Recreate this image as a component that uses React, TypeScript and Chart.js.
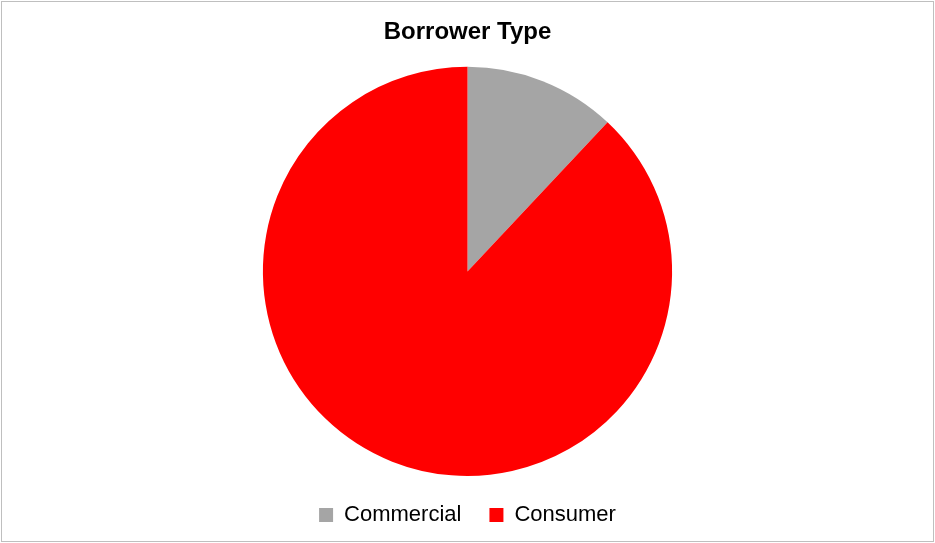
import React, { useEffect, useRef } from "react";
import { Chart, registerables } from "chart.js";

Chart.register(...registerables);

const categories = ["Commercial", "Consumer"];
const values = [12, 88];
const colors = ["#A5A5A5", "#FF0000"];
const titleText = "Borrower Type";

export default function App() {
  const canvasRef = useRef<HTMLCanvasElement | null>(null);

  useEffect(() => {
    document.body.style.margin = "0";
    const canvas = canvasRef.current;
    if (!canvas) return;
    const chart = new Chart(canvas, {
      type: "pie",
      data: {
        labels: categories,
        datasets: [
          {
            data: values,
            backgroundColor: colors,
            borderWidth: 0,
          },
        ],
      },
      options: {
        animation: false,
        responsive: true,
        maintainAspectRatio: false,
        layout: { padding: { top: 0, bottom: 7, left: 0, right: 0 } },
        plugins: {
          tooltip: { enabled: false },
          title: {
            display: true,
            text: titleText,
            color: "#000000",
            font: { family: "'Liberation Sans', Arial, sans-serif", size: 24, weight: "bold" },
            padding: { top: 18, bottom: 20 },
          },
          legend: {
            display: true,
            position: "bottom",
            labels: {
              color: "#000000",
              font: { family: "'Liberation Sans', Arial, sans-serif", size: 22 },
              boxWidth: 14,
              boxHeight: 14,
              padding: 28,
            },
          },
        },
      },
    });
    return () => chart.destroy();
  }, []);

  return (
    <div style={{ position: "relative", width: 935, height: 543, background: "#ffffff" }}>
      <canvas ref={canvasRef} style={{ position: "absolute", left: 0, top: 0 }} />
      <div
        style={{
          position: "absolute",
          left: 1,
          top: 1,
          width: 933,
          height: 541,
          boxSizing: "border-box",
          border: "1px solid #BFBFBF",
          pointerEvents: "none",
        }}
      />
    </div>
  );
}
